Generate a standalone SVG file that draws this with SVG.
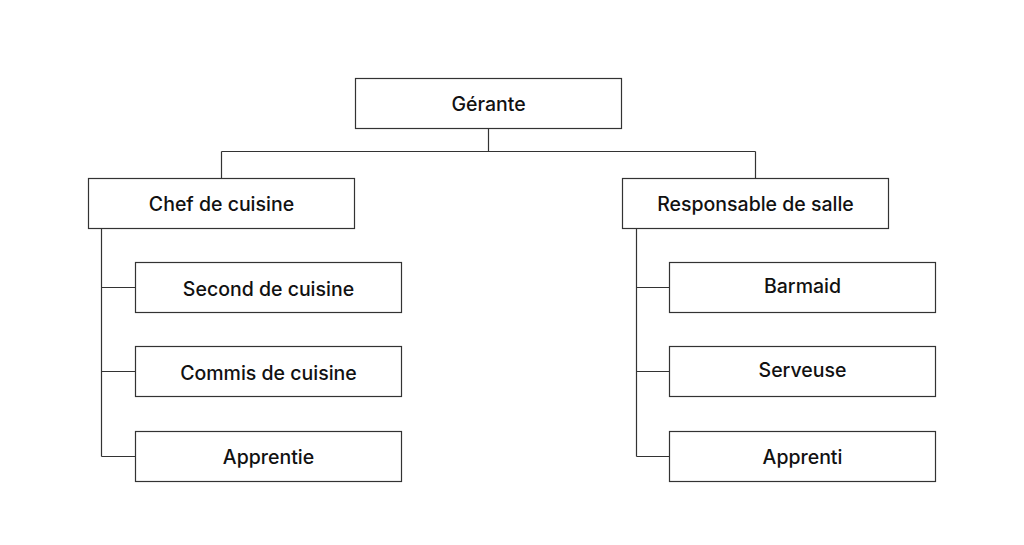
<svg xmlns="http://www.w3.org/2000/svg" width="1024" height="545" viewBox="0 0 1024 545">
<style>
.box{fill:#fff;stroke:#333;stroke-width:1.2}
.lbl{font-family:Inter,"Liberation Sans",sans-serif;font-size:19.5px;font-weight:500;fill:#111;text-anchor:middle}
.ln{fill:none;stroke:#333;stroke-width:1.2}
</style>
<rect width="1024" height="545" fill="#fff"/>
<g id="connectors">
<path class="ln" d="M488.5 128V151.5M221.5 151.5H755.5M221.5 151.5V178M755.5 151.5V178"/>
<path class="ln" d="M101.5 228V456.5M101.5 287.5H135M101.5 371.5H135M101.5 456.5H135"/>
<path class="ln" d="M636.5 228V456.5M636.5 287.5H669M636.5 371.5H669M636.5 456.5H669"/>
</g>
<g id="gerante"><rect class="box" x="355.5" y="78.5" width="266" height="50"/><text class="lbl" x="488.5" y="111">Gérante</text></g>
<g id="chef"><rect class="box" x="88.5" y="178.5" width="266" height="50"/><text class="lbl" x="221.5" y="211">Chef de cuisine</text></g>
<g id="responsable"><rect class="box" x="622.5" y="178.5" width="266" height="50"/><text class="lbl" x="755.5" y="211">Responsable de salle</text></g>
<g id="second"><rect class="box" x="135.5" y="262.5" width="266" height="50"/><text class="lbl" x="268.5" y="295.5">Second de cuisine</text></g>
<g id="commis"><rect class="box" x="135.5" y="346.5" width="266" height="50"/><text class="lbl" x="268.5" y="379.5">Commis de cuisine</text></g>
<g id="apprentie"><rect class="box" x="135.5" y="431.5" width="266" height="50"/><text class="lbl" x="268.5" y="464">Apprentie</text></g>
<g id="barmaid"><rect class="box" x="669.5" y="262.5" width="266" height="50"/><text class="lbl" x="802.5" y="292.5">Barmaid</text></g>
<g id="serveuse"><rect class="box" x="669.5" y="346.5" width="266" height="50"/><text class="lbl" x="802.5" y="376.5">Serveuse</text></g>
<g id="apprenti"><rect class="box" x="669.5" y="431.5" width="266" height="50"/><text class="lbl" x="802.5" y="464">Apprenti</text></g>
</svg>
